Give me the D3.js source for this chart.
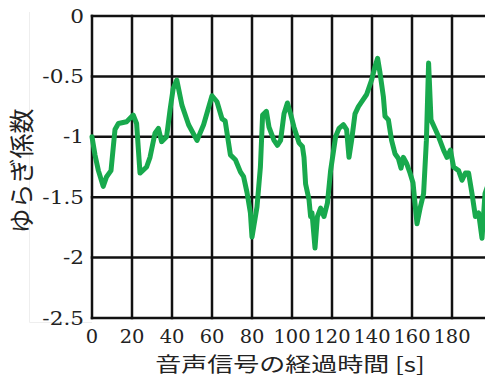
<!DOCTYPE html>
<html>
<head>
<meta charset="utf-8">
<script src="https://cdn.jsdelivr.net/npm/d3@7"></script>
<style>
  body { margin: 0; background: #fff; }
  svg { display: block; }
  .num { font-family: 'DejaVu Serif', 'Liberation Serif', serif; font-size: 18px; fill: #222; }
  .jp { font-family: 'Noto Sans CJK JP', sans-serif; fill: #222; }
</style>
</head>
<body>
<div class="chart"></div>
<script>
const times = [0, 1.5, 3.2, 5.6, 7.3, 9.5, 11.5, 13.2, 17.3, 20.6, 22.3, 24, 27.3, 29, 31.5, 33.2, 34.8, 37.3, 39, 40.6,
  42.4, 45, 48.3, 52.5, 55.8, 60, 62.5, 65, 66.6, 69.2, 71.7, 74.2, 75.8, 77.5, 79.2, 80, 82.5, 84.2, 85.3, 87.2,
  88.5, 91, 92.7, 94.3, 96, 97.7, 99.3, 101, 103.5, 105.2, 106, 106.8, 108.5, 109.3, 110, 111.5, 112.7, 114.3, 116, 117.7,
  119.3, 121.8, 123.5, 125.7, 127.3, 128.5, 129.8, 131.5, 133.2, 134.8, 137.3, 139.8, 141.5, 142.8, 144, 145.7, 146.5, 148.2, 149.8, 151.5,
  153.2, 154.5, 155.7, 157.3, 159, 160.5, 162.5, 164.2, 165.8, 167.2, 168.3, 169.5, 171.7, 173.3, 175.8, 177.5, 179.2, 180.8, 183.3, 185,
  186.7, 188.3, 190, 191.7, 193.3, 195, 196.5, 198]
const fluct = [-1.0, -1.15, -1.28, -1.41, -1.33, -1.28, -0.94, -0.89, -0.875, -0.82, -0.89, -1.30, -1.25, -1.17, -0.97, -0.93, -1.04, -1.0, -0.78, -0.60,
  -0.53, -0.74, -0.90, -1.03, -0.90, -0.66, -0.71, -0.85, -0.87, -1.15, -1.19, -1.29, -1.33, -1.46, -1.63, -1.83, -1.58, -1.25, -0.82, -0.79,
  -0.92, -1.03, -1.07, -1.03, -0.81, -0.72, -0.81, -0.92, -1.05, -1.08, -1.17, -1.39, -1.52, -1.66, -1.63, -1.92, -1.66, -1.59, -1.66, -1.55,
  -1.28, -1.0, -0.93, -0.90, -0.94, -1.17, -1.03, -0.81, -0.75, -0.71, -0.65, -0.53, -0.42, -0.35, -0.47, -0.67, -0.83, -0.86, -1.03, -1.14,
  -1.18, -1.26, -1.17, -1.22, -1.30, -1.38, -1.72, -1.58, -1.47, -1.03, -0.39, -0.86, -0.94, -1.0, -1.11, -1.17, -1.11, -1.25, -1.28, -1.36,
  -1.30, -1.30, -1.47, -1.66, -1.63, -1.84, -1.47, -1.40]
const xTicks = [0, 20, 40, 60, 80, 100, 120, 140, 160, 180]
const yTicks = [0, -0.5, -1, -1.5, -2, -2.5]
const yLabel = 'ゆらぎ係数'
const xLabel = '音声信号の経過時間 [s]'

const w = 485, h = 377
const mLeft = 92, mTop = 16, mBottom = 318

const svg = d3.select('.chart')
              .append('svg')
              .attr('width', w)
              .attr('height', h)

const x = d3.scaleLinear().domain([0, 200]).range([mLeft, mLeft + 400])
const y = d3.scaleLinear().domain([-2.5, 0]).range([mBottom, mTop])

// faint frame left over in the original image
svg.append('path')
   .attr('d', `M29.5,12V322.5H${mLeft}`)
   .attr('fill', 'none')
   .attr('stroke', '#eeeeee')
   .attr('stroke-width', 1)

const grid = svg.append('g')
grid.selectAll('.vgrid')
    .data(xTicks)
    .enter()
    .append('line')
    .attr('x1', d => x(d))
    .attr('x2', d => x(d))
    .attr('y1', mTop)
    .attr('y2', mBottom)
grid.selectAll('.hgrid')
    .data(yTicks)
    .enter()
    .append('line')
    .attr('x1', mLeft)
    .attr('x2', w)
    .attr('y1', d => y(d))
    .attr('y2', d => y(d))
grid.selectAll('line')
    .attr('stroke', '#111')
    .attr('stroke-width', 2.5)
    .attr('stroke-linecap', 'square')

const line = d3.line()
               .x((d, i) => x(times[i]))
               .y(d => y(d))

svg.append('path')
   .datum(fluct)
   .attr('d', line)
   .attr('fill', 'none')
   .attr('stroke', '#18a94d')
   .attr('stroke-width', 5)
   .attr('stroke-linejoin', 'round')
   .attr('stroke-linecap', 'round')

svg.selectAll('.ytick')
   .data(yTicks)
   .enter()
   .append('text')
   .attr('class', 'num')
   .attr('text-anchor', 'end')
   .attr('transform', d => `translate(84,${y(d) + 6.5}) scale(1.2,1)`)
   .text(d => d3.format('.1~f')(d).replace('−', '-'))

svg.selectAll('.xtick')
   .data(xTicks)
   .enter()
   .append('text')
   .attr('class', 'num')
   .attr('text-anchor', 'middle')
   .attr('transform', d => `translate(${x(d)},343) scale(1.08,1)`)
   .text(d => d)

svg.append('text')
   .attr('class', 'jp')
   .attr('font-size', 25)
   .attr('text-anchor', 'middle')
   .attr('transform', 'translate(31,171) rotate(-90)')
   .text(yLabel)

svg.append('text')
   .attr('class', 'jp')
   .attr('font-size', 20)
   .attr('text-anchor', 'middle')
   .attr('transform', 'translate(290,371.5) scale(1.3,1)')
   .text(xLabel)
</script>
</body>
</html>
